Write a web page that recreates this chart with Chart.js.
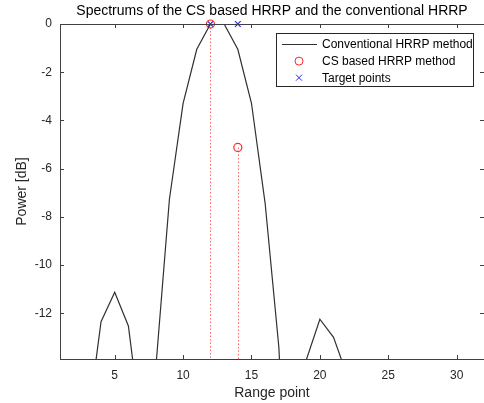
<!DOCTYPE html>
<html>
<head>
<meta charset="utf-8">
<script src="https://cdn.jsdelivr.net/npm/chart.js@4/dist/chart.umd.min.js"></script>
<style>
  html, body { margin: 0; padding: 0; background: #fff; overflow: hidden; }
  #wrap { width: 484px; height: 403px; }
</style>
</head>
<body>
<div id="wrap"><canvas id="hrrp-chart" width="484" height="403"></canvas></div>
<script>
// values (dB)
const rangePoints = [1, 2, 3, 4, 5, 6, 7, 8, 9, 10, 11, 12, 13, 14, 15, 16,
  17, 18, 19, 20, 21, 22, 23, 24, 25, 26, 27, 28, 29, 30, 31, 32];
// points below -13.9 dB are off the plot, so they are rough guesses
const conventionalDb = [-30, -24, -16.7, -12.35, -11.13, -12.53, -17, -14.3,
  -7.27, -3.29, -1.05, 0, 0, -1.05, -3.29, -7.45,
  -13.4, -25, -13.95, -12.25, -13.0, -14.6, -20, -18,
  -22, -19, -24, -20, -23, -21, -25, -22];

const csPoints = [12, 14];
const csDb = [0, -5.12];

const targetPoints = [12, 14];
const targetDb = [0, 0];

const xTicks = [5, 10, 15, 20, 25, 30];
const yTicks = [0, -2, -4, -6, -8, -10, -12];

const textColor = '#262626';
const fontFamily = '"Liberation Sans", Arial, Helvetica, sans-serif';

// MATLAB-like box with inward ticks on all four sides
// (the right edge of the box sits just past the picture edge)
const boxPlugin = {
  id: 'box',
  afterDraw(chart) {
    const { ctx, chartArea: ca, scales: { x, y } } = chart;
    ctx.save();
    ctx.strokeStyle = '#404040';
    ctx.lineWidth = 1;
    ctx.strokeRect(ca.left + 0.5, ca.top + 0.5, ca.right - ca.left + 1, ca.bottom - ca.top);
    ctx.beginPath();
    x.ticks.forEach(t => {
      const px = Math.round(x.getPixelForValue(t.value)) + 0.5;
      ctx.moveTo(px, ca.bottom); ctx.lineTo(px, ca.bottom - 4);
      ctx.moveTo(px, ca.top); ctx.lineTo(px, ca.top + 4);
    });
    y.ticks.forEach(t => {
      const py = Math.round(y.getPixelForValue(t.value)) + 0.5;
      ctx.moveTo(ca.left, py); ctx.lineTo(ca.left + 4, py);
      ctx.moveTo(ca.right, py); ctx.lineTo(ca.right - 4, py);
    });
    ctx.stroke();
    ctx.restore();
  }
};

// dotted stems under the CS points
const stemPlugin = {
  id: 'stems',
  beforeDatasetsDraw(chart) {
    const { ctx, chartArea: ca, scales: { x, y } } = chart;
    const ds = chart.data.datasets[1];
    ctx.save();
    ctx.strokeStyle = 'rgba(255, 0, 0, 0.6)';
    ctx.lineWidth = 1;
    ctx.setLineDash([1.5, 2]);
    ds.data.forEach(p => {
      const px = Math.round(x.getPixelForValue(p.x)) + 0.5;
      ctx.beginPath();
      ctx.moveTo(px, y.getPixelForValue(p.y));
      ctx.lineTo(px, ca.bottom);
      ctx.stroke();
    });
    ctx.restore();
  }
};

// boxed legend inside the top right corner of the plot
const legendPlugin = {
  id: 'boxLegend',
  afterDraw(chart) {
    const { ctx, chartArea: ca } = chart;
    const left = ca.right - 208, top = ca.top + 9, w = 197, h = 53;
    ctx.save();
    ctx.fillStyle = '#fff';
    ctx.fillRect(left, top, w, h);
    ctx.strokeStyle = '#262626';
    ctx.lineWidth = 1;
    ctx.strokeRect(left + 0.5, top + 0.5, w, h);
    ctx.font = '12px ' + fontFamily;
    ctx.textBaseline = 'middle';
    chart.data.datasets.forEach((ds, i) => {
      const cy = top + 11.5 + i * 16.6;
      const mx = left + 23;
      ctx.strokeStyle = ds.borderColor;
      ctx.lineWidth = 1;
      ctx.beginPath();
      if (i === 0) {
        ctx.moveTo(left + 6, cy); ctx.lineTo(left + 41, cy);
      } else if (ds.pointStyle === 'circle') {
        ctx.arc(mx, cy, 4, 0, Math.PI * 2);
      } else {
        ctx.moveTo(mx - 3, cy - 3); ctx.lineTo(mx + 3, cy + 3);
        ctx.moveTo(mx - 3, cy + 3); ctx.lineTo(mx + 3, cy - 3);
      }
      ctx.stroke();
      ctx.fillStyle = '#000';
      ctx.fillText(ds.label, left + 46, cy + 0.5);
    });
    ctx.restore();
  }
};

new Chart(document.getElementById('hrrp-chart'), {
  type: 'line',
  data: {
    datasets: [{
      label: 'Conventional HRRP method',
      data: rangePoints.map((r, i) => ({ x: r, y: conventionalDb[i] })),
      borderColor: '#303030',
      borderWidth: 1.2,
      pointRadius: 0,
      tension: 0
    }, {
      label: 'CS based HRRP method',
      data: csPoints.map((r, i) => ({ x: r, y: csDb[i] })),
      showLine: false,
      pointStyle: 'circle',
      pointRadius: 4,
      borderColor: 'rgb(255, 40, 40)',
      backgroundColor: 'rgba(0,0,0,0)',
      pointBorderWidth: 1.2,
      clip: false
    }, {
      label: 'Target points',
      data: targetPoints.map((r, i) => ({ x: r, y: targetDb[i] })),
      showLine: false,
      pointStyle: 'crossRot',
      pointRadius: 4,
      borderColor: 'rgb(40, 40, 255)',
      pointBorderWidth: 1.2,
      clip: false
    }]
  },
  options: {
    responsive: false,
    animation: false,
    layout: { autoPadding: false, padding: { left: 0, right: 0, top: 0, bottom: 0 } },
    scales: {
      x: {
        type: 'linear',
        min: 1,
        max: 32,
        afterBuildTicks: (scale) => { scale.ticks = xTicks.map(v => ({ value: v })); },
        afterFit: (scale) => { scale.height = 44; },
        grid: { display: false, drawTicks: false, tickLength: 0 },
        border: { display: false },
        ticks: { color: textColor, font: { size: 12, family: fontFamily }, padding: 9, maxRotation: 0 },
        title: {
          display: true,
          text: 'Range point',
          color: textColor,
          font: { size: 14, family: fontFamily },
          padding: { top: 0, bottom: 1 }
        }
      },
      // top axis only carries the plot title, centred over the plot box
      xTop: {
        type: 'linear',
        position: 'top',
        min: 1,
        max: 32,
        afterFit: (scale) => { scale.height = 24; },
        grid: { display: false, drawTicks: false, tickLength: 0 },
        border: { display: false },
        ticks: { display: false },
        title: {
          display: true,
          text: 'Spectrums of the CS based HRRP and the conventional HRRP',
          color: '#000',
          font: { size: 14, family: fontFamily },
          padding: { top: 3, bottom: 0 }
        }
      },
      y: {
        min: -13.9,
        max: 0,
        afterBuildTicks: (scale) => { scale.ticks = yTicks.map(v => ({ value: v })); },
        afterFit: (scale) => { scale.width = 60; },
        grid: { display: false, drawTicks: false, tickLength: 0 },
        border: { display: false },
        ticks: { color: textColor, font: { size: 12, family: fontFamily }, padding: 8 },
        title: {
          display: true,
          text: 'Power [dB]',
          color: textColor,
          font: { size: 14, family: fontFamily },
          padding: { top: 14, bottom: 0 }
        }
      }
    },
    plugins: {
      legend: { display: false },
      tooltip: { enabled: false },
      title: { display: false }
    }
  },
  plugins: [stemPlugin, boxPlugin, legendPlugin]
});
</script>
</body>
</html>
